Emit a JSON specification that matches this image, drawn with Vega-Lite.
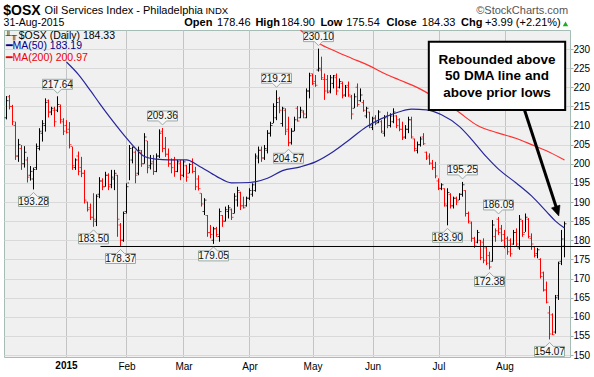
{
  "$schema": "https://vega.github.io/schema/vega-lite/v6.json",
  "width": 566,
  "height": 327,
  "autosize": {"type": "none"},
  "padding": {"left": 4, "top": 30, "right": 24, "bottom": 20},
  "background": "white",
  "config": {
    "view": {"fill": "#f0f0f0", "stroke": "#a5bdb5"},
    "font": "Liberation Sans",
    "axis": {"labelFont": "Liberation Sans", "labelFontSize": 10, "labelColor": "#000000", "domain": false, "title": null, "labelOverlap": false},
    "axisQuantitative": {"labelOverlap": false},
    "axisX": {"gridColor": "#c4c4c4", "ticks": false, "labelPadding": 4, "labelOverlap": false},
    "axisY": {"gridColor": "#d9d9d9", "tickSize": 3, "tickColor": "#9db5ae", "labelPadding": 0, "labelOverlap": false, "tickCount": 17}
  },
  "datasets": {
    "ohlc": [
      {"d":-20,"o":212,"h":217.7,"l":211.6,"c":216.5,"dir":"up"},
      {"d":-19,"o":217.5,"h":218,"l":214.2,"c":215,"dir":"down"},
      {"d":-18,"o":215,"h":215.4,"l":210.1,"c":211,"dir":"down"},
      {"d":-17,"o":210,"h":211,"l":201,"c":202,"dir":"down"},
      {"d":-16,"o":202,"h":206.5,"l":200.5,"c":205,"dir":"up"},
      {"d":-15,"o":204,"h":204.9,"l":198.4,"c":200,"dir":"down"},
      {"d":-14,"o":200,"h":204.6,"l":199,"c":203,"dir":"up"},
      {"d":-13,"o":201,"h":201.8,"l":195.1,"c":196.5,"dir":"down"},
      {"d":-12,"o":197,"h":199.4,"l":195.6,"c":198,"dir":"up"},
      {"d":-11,"o":196,"h":199,"l":193.28,"c":198.5,"dir":"up"},
      {"d":-10,"o":199,"h":205.3,"l":198.4,"c":204.5,"dir":"up"},
      {"d":-9,"o":204,"h":209.3,"l":203.5,"c":208.5,"dir":"up"},
      {"d":-8,"o":208,"h":211.4,"l":205.8,"c":210.5,"dir":"up"},
      {"d":-7,"o":210,"h":217.1,"l":208.4,"c":216,"dir":"up"},
      {"d":-6,"o":216.5,"h":216.8,"l":212.1,"c":213.5,"dir":"down"},
      {"d":-5,"o":213.5,"h":214.9,"l":212.7,"c":214.5,"dir":"up"},
      {"d":-4,"o":214,"h":214.9,"l":209.7,"c":211,"dir":"down"},
      {"d":-3,"o":214,"h":217.64,"l":213.5,"c":215.5,"dir":"up"},
      {"d":-2,"o":215,"h":215.5,"l":210.5,"c":211.5,"dir":"down"},
      {"d":-1,"o":211,"h":211.9,"l":207.5,"c":208.5,"dir":"down"},
      {"d":0,"o":210,"h":211.4,"l":207.9,"c":208.2,"dir":"down"},
      {"d":1,"o":209,"h":210.9,"l":204,"c":205,"dir":"down"},
      {"d":2,"o":204.5,"h":204.5,"l":198.4,"c":199.5,"dir":"down"},
      {"d":3,"o":199,"h":201.4,"l":198.4,"c":201,"dir":"up"},
      {"d":4,"o":202,"h":203.2,"l":197,"c":198,"dir":"down"},
      {"d":5,"o":199,"h":201.8,"l":196.5,"c":197.5,"dir":"down"},
      {"d":6,"o":197.5,"h":198.4,"l":189.6,"c":190.5,"dir":"down"},
      {"d":7,"o":190,"h":190.1,"l":187.5,"c":188,"dir":"down"},
      {"d":8,"o":188.5,"h":189.6,"l":185.3,"c":186,"dir":"down"},
      {"d":9,"o":186,"h":192.3,"l":183.5,"c":185.5,"dir":"down"},
      {"d":10,"o":185,"h":192,"l":183.7,"c":191.5,"dir":"up"},
      {"d":11,"o":192,"h":196.5,"l":191,"c":195.5,"dir":"up"},
      {"d":12,"o":195.5,"h":196.2,"l":193.1,"c":194,"dir":"down"},
      {"d":13,"o":194,"h":197.9,"l":194,"c":197,"dir":"up"},
      {"d":14,"o":197,"h":197.5,"l":193.1,"c":194,"dir":"down"},
      {"d":15,"o":194.5,"h":198.4,"l":193.6,"c":196.5,"dir":"up"},
      {"d":16,"o":196,"h":198.4,"l":193.1,"c":197.5,"dir":"up"},
      {"d":17,"o":197,"h":197.1,"l":180.9,"c":185.5,"dir":"down"},
      {"d":18,"o":184,"h":184.5,"l":178.37,"c":180,"dir":"down"},
      {"d":19,"o":180,"h":187.5,"l":179.6,"c":187,"dir":"up"},
      {"d":20,"o":187.5,"h":194.9,"l":187,"c":194,"dir":"up"},
      {"d":21,"o":195,"h":204.9,"l":195.7,"c":204,"dir":"up"},
      {"d":22,"o":201,"h":204.5,"l":200.1,"c":204.3,"dir":"up"},
      {"d":23,"o":203,"h":203.5,"l":194.9,"c":197,"dir":"down"},
      {"d":24,"o":197.5,"h":204.5,"l":197,"c":203.5,"dir":"up"},
      {"d":25,"o":203,"h":203.6,"l":199.2,"c":200,"dir":"down"},
      {"d":26,"o":200,"h":208,"l":200,"c":207,"dir":"up"},
      {"d":27,"o":206,"h":206,"l":197.5,"c":199,"dir":"down"},
      {"d":28,"o":199.5,"h":202.3,"l":198.5,"c":200,"dir":"up"},
      {"d":29,"o":200.5,"h":202.3,"l":197.1,"c":198,"dir":"down"},
      {"d":30,"o":198,"h":202.7,"l":197.8,"c":202,"dir":"up"},
      {"d":31,"o":202,"h":209,"l":201.5,"c":208,"dir":"up"},
      {"d":32,"o":208.5,"h":209.36,"l":203,"c":204,"dir":"down"},
      {"d":33,"o":204,"h":207,"l":201.8,"c":202.5,"dir":"down"},
      {"d":34,"o":202.5,"h":204,"l":199.2,"c":200,"dir":"down"},
      {"d":35,"o":200,"h":201.4,"l":197.5,"c":199,"dir":"down"},
      {"d":36,"o":201,"h":201.8,"l":196.6,"c":198,"dir":"down"},
      {"d":37,"o":198,"h":201,"l":197.8,"c":200.5,"dir":"up"},
      {"d":38,"o":200,"h":201,"l":195.7,"c":197,"dir":"down"},
      {"d":39,"o":197,"h":201,"l":196.5,"c":200.5,"dir":"up"},
      {"d":40,"o":199.5,"h":199.7,"l":195.3,"c":196.5,"dir":"down"},
      {"d":41,"o":197.5,"h":200.1,"l":197.5,"c":199.8,"dir":"up"},
      {"d":42,"o":200.5,"h":201.4,"l":197.5,"c":198,"dir":"down"},
      {"d":43,"o":198,"h":199.2,"l":193.1,"c":194,"dir":"down"},
      {"d":44,"o":196,"h":197,"l":193,"c":193.5,"dir":"down"},
      {"d":45,"o":192.3,"h":192.3,"l":188.8,"c":189.5,"dir":"down"},
      {"d":46,"o":187.5,"h":191,"l":186.6,"c":190.5,"dir":"up"},
      {"d":47,"o":186.5,"h":186.6,"l":180.9,"c":182,"dir":"down"},
      {"d":48,"o":182,"h":184,"l":180.5,"c":181.5,"dir":"down"},
      {"d":49,"o":180,"h":183.5,"l":179.05,"c":183,"dir":"up"},
      {"d":50,"o":183,"h":183.5,"l":180.9,"c":181.5,"dir":"down"},
      {"d":51,"o":181,"h":188.3,"l":179.6,"c":187.5,"dir":"up"},
      {"d":52,"o":186.5,"h":186.6,"l":183.5,"c":185,"dir":"down"},
      {"d":53,"o":185,"h":188.8,"l":184.9,"c":188,"dir":"up"},
      {"d":54,"o":187.5,"h":189.2,"l":185.7,"c":188.5,"dir":"up"},
      {"d":55,"o":188,"h":188.3,"l":185.3,"c":186,"dir":"down"},
      {"d":56,"o":187,"h":192.3,"l":187,"c":191.5,"dir":"up"},
      {"d":57,"o":190.5,"h":194,"l":188.8,"c":193,"dir":"up"},
      {"d":58,"o":192.5,"h":192.7,"l":187.9,"c":189,"dir":"down"},
      {"d":59,"o":189,"h":191.4,"l":188.3,"c":188.5,"dir":"down"},
      {"d":60,"o":189,"h":191.4,"l":188.8,"c":191,"dir":"up"},
      {"d":61,"o":191,"h":193.6,"l":190.5,"c":193,"dir":"up"},
      {"d":62,"o":192,"h":194.9,"l":191.4,"c":194.5,"dir":"up"},
      {"d":63,"o":193,"h":202.7,"l":192.7,"c":202,"dir":"up"},
      {"d":64,"o":201.5,"h":204.5,"l":200.1,"c":203.5,"dir":"up"},
      {"d":65,"o":203.5,"h":204.5,"l":200.5,"c":201.5,"dir":"down"},
      {"d":66,"o":201.5,"h":204.9,"l":201,"c":204,"dir":"up"},
      {"d":67,"o":203.5,"h":208.8,"l":202.7,"c":208,"dir":"up"},
      {"d":68,"o":208,"h":211,"l":207.1,"c":210,"dir":"up"},
      {"d":69,"o":210.5,"h":215.8,"l":210.6,"c":215,"dir":"up"},
      {"d":70,"o":212,"h":219.21,"l":211.4,"c":216,"dir":"up"},
      {"d":71,"o":217,"h":217.5,"l":213.2,"c":214,"dir":"down"},
      {"d":72,"o":210.5,"h":214.9,"l":209.7,"c":214.5,"dir":"up"},
      {"d":73,"o":214,"h":214.5,"l":207.5,"c":208.5,"dir":"down"},
      {"d":74,"o":209,"h":212.3,"l":204.57,"c":205.5,"dir":"down"},
      {"d":75,"o":205.5,"h":209.3,"l":205,"c":208.5,"dir":"up"},
      {"d":76,"o":208.5,"h":212.3,"l":208.5,"c":211.5,"dir":"up"},
      {"d":77,"o":214.5,"h":215.1,"l":211,"c":211.2,"dir":"down"},
      {"d":78,"o":212,"h":214.9,"l":211.9,"c":214,"dir":"up"},
      {"d":79,"o":213.5,"h":214,"l":211.9,"c":213,"dir":"down"},
      {"d":80,"o":212,"h":219.7,"l":211.9,"c":219,"dir":"up"},
      {"d":81,"o":219,"h":223.8,"l":217.1,"c":223,"dir":"up"},
      {"d":82,"o":223.5,"h":223.6,"l":220.6,"c":221,"dir":"down"},
      {"d":83,"o":221.5,"h":223.2,"l":220.1,"c":220.5,"dir":"down"},
      {"d":84,"o":224.5,"h":230.1,"l":224.1,"c":225,"dir":"up"},
      {"d":85,"o":224.5,"h":228,"l":221.9,"c":222.5,"dir":"down"},
      {"d":86,"o":222,"h":223.6,"l":216.7,"c":219,"dir":"down"},
      {"d":87,"o":222,"h":223.2,"l":218.4,"c":218.6,"dir":"down"},
      {"d":88,"o":219,"h":223.2,"l":218.4,"c":222.5,"dir":"up"},
      {"d":89,"o":221,"h":223.2,"l":219.7,"c":223,"dir":"up"},
      {"d":90,"o":222.5,"h":223.6,"l":218,"c":219,"dir":"down"},
      {"d":91,"o":220,"h":222.3,"l":219.7,"c":221.5,"dir":"up"},
      {"d":92,"o":221,"h":221.5,"l":217.1,"c":217.8,"dir":"down"},
      {"d":93,"o":218,"h":220.6,"l":217.5,"c":220,"dir":"up"},
      {"d":94,"o":220.5,"h":221.5,"l":217.5,"c":218,"dir":"down"},
      {"d":95,"o":217.5,"h":218,"l":211.6,"c":213,"dir":"down"},
      {"d":96,"o":214.5,"h":218.4,"l":214.5,"c":217.5,"dir":"up"},
      {"d":97,"o":220,"h":221,"l":214.9,"c":215.5,"dir":"down"},
      {"d":98,"o":216.5,"h":219.7,"l":216.2,"c":218,"dir":"up"},
      {"d":99,"o":216,"h":216.7,"l":213.6,"c":214,"dir":"down"},
      {"d":100,"o":212.5,"h":214.9,"l":211.9,"c":214.5,"dir":"up"},
      {"d":101,"o":213.5,"h":213.6,"l":209.3,"c":210,"dir":"down"},
      {"d":102,"o":209.5,"h":212.3,"l":208.8,"c":211.8,"dir":"up"},
      {"d":103,"o":212,"h":212.7,"l":210.1,"c":210.5,"dir":"down"},
      {"d":104,"o":210.8,"h":214,"l":210.6,"c":213.5,"dir":"up"},
      {"d":105,"o":211,"h":211.4,"l":208,"c":208.5,"dir":"down"},
      {"d":106,"o":208,"h":212.7,"l":207.1,"c":212,"dir":"up"},
      {"d":107,"o":212.5,"h":213.6,"l":209.3,"c":210,"dir":"down"},
      {"d":108,"o":210,"h":213.2,"l":209.5,"c":212.5,"dir":"up"},
      {"d":109,"o":211,"h":214.5,"l":210.6,"c":213.5,"dir":"up"},
      {"d":110,"o":212.5,"h":212.7,"l":209.3,"c":210,"dir":"down"},
      {"d":111,"o":211.5,"h":211.9,"l":208.5,"c":209,"dir":"down"},
      {"d":112,"o":209,"h":211,"l":206.2,"c":206.8,"dir":"down"},
      {"d":113,"o":207,"h":210.1,"l":206.5,"c":209,"dir":"up"},
      {"d":114,"o":209,"h":212.3,"l":208,"c":211.5,"dir":"up"},
      {"d":115,"o":211.5,"h":212.3,"l":206.6,"c":207,"dir":"down"},
      {"d":116,"o":206.5,"h":206.6,"l":203.2,"c":204,"dir":"down"},
      {"d":117,"o":203.5,"h":205.8,"l":202.7,"c":205,"dir":"up"},
      {"d":118,"o":205,"h":207.1,"l":204.5,"c":206.5,"dir":"up"},
      {"d":119,"o":207,"h":208,"l":204.9,"c":205.2,"dir":"down"},
      {"d":120,"o":203,"h":203.2,"l":201,"c":201.5,"dir":"down"},
      {"d":121,"o":202,"h":202.7,"l":199.7,"c":200.2,"dir":"down"},
      {"d":122,"o":200,"h":201,"l":198.4,"c":199,"dir":"down"},
      {"d":123,"o":199,"h":200.5,"l":196.2,"c":196.8,"dir":"down"},
      {"d":124,"o":195.5,"h":196.2,"l":193.1,"c":193.6,"dir":"down"},
      {"d":125,"o":193.5,"h":194.9,"l":193.1,"c":194.5,"dir":"up"},
      {"d":126,"o":193.5,"h":193.6,"l":188.8,"c":189.5,"dir":"down"},
      {"d":127,"o":189,"h":193.6,"l":183.9,"c":192.5,"dir":"up"},
      {"d":128,"o":192,"h":192.3,"l":188.3,"c":189,"dir":"down"},
      {"d":129,"o":189,"h":191.4,"l":188.3,"c":191,"dir":"up"},
      {"d":130,"o":191,"h":191.4,"l":189.2,"c":190,"dir":"down"},
      {"d":131,"o":190.5,"h":192.3,"l":190.5,"c":192,"dir":"up"},
      {"d":132,"o":192,"h":195.25,"l":191.4,"c":194.5,"dir":"up"},
      {"d":133,"o":193,"h":193.1,"l":186.2,"c":187,"dir":"down"},
      {"d":134,"o":187,"h":187.5,"l":184.4,"c":185,"dir":"down"},
      {"d":135,"o":184.5,"h":184.9,"l":179.6,"c":180.5,"dir":"down"},
      {"d":136,"o":180.5,"h":180.9,"l":178,"c":178.5,"dir":"down"},
      {"d":137,"o":179.5,"h":182.7,"l":179.2,"c":182,"dir":"up"},
      {"d":138,"o":180,"h":180.1,"l":174.8,"c":175.5,"dir":"down"},
      {"d":139,"o":179.5,"h":180.5,"l":174,"c":174.8,"dir":"down"},
      {"d":140,"o":178,"h":178.3,"l":173.5,"c":174,"dir":"down"},
      {"d":141,"o":176,"h":177,"l":172.38,"c":173,"dir":"down"},
      {"d":142,"o":174.5,"h":185.3,"l":174.4,"c":184,"dir":"up"},
      {"d":143,"o":181,"h":183.1,"l":179.6,"c":182.5,"dir":"down"},
      {"d":144,"o":185.5,"h":186.09,"l":181.4,"c":182,"dir":"down"},
      {"d":145,"o":183,"h":184,"l":179.6,"c":180,"dir":"down"},
      {"d":146,"o":181.5,"h":182.7,"l":177.9,"c":178.5,"dir":"down"},
      {"d":147,"o":180.5,"h":181,"l":176.2,"c":177,"dir":"down"},
      {"d":148,"o":180,"h":180.5,"l":175.7,"c":176.5,"dir":"down"},
      {"d":149,"o":179,"h":182.7,"l":178.8,"c":182,"dir":"up"},
      {"d":150,"o":182,"h":183.1,"l":178.3,"c":179,"dir":"down"},
      {"d":151,"o":178,"h":186.6,"l":177.5,"c":185.5,"dir":"up"},
      {"d":152,"o":185,"h":185.3,"l":180.9,"c":181.5,"dir":"down"},
      {"d":153,"o":182,"h":187,"l":182.2,"c":186,"dir":"up"},
      {"d":154,"o":185.5,"h":185.8,"l":180.5,"c":181,"dir":"down"},
      {"d":155,"o":180.5,"h":181.8,"l":177.5,"c":179,"dir":"down"},
      {"d":156,"o":178.3,"h":178.5,"l":175.5,"c":176,"dir":"down"},
      {"d":157,"o":176.5,"h":178,"l":175.3,"c":177.5,"dir":"up"},
      {"d":158,"o":175,"h":175.3,"l":170,"c":170.5,"dir":"down"},
      {"d":159,"o":171.5,"h":171.8,"l":166.6,"c":167,"dir":"down"},
      {"d":160,"o":167,"h":169.2,"l":163.5,"c":163.8,"dir":"down"},
      {"d":161,"o":161,"h":162.8,"l":154.07,"c":155.5,"dir":"down"},
      {"d":162,"o":160.5,"h":160.9,"l":155.2,"c":155.3,"dir":"down"},
      {"d":163,"o":156,"h":165.7,"l":155.6,"c":165,"dir":"up"},
      {"d":164,"o":165.5,"h":174.4,"l":164.4,"c":174,"dir":"up"},
      {"d":165,"o":174.5,"h":182.7,"l":173.5,"c":180.34,"dir":"up"},
      {"d":166,"o":178.46,"h":184.9,"l":175.54,"c":184.33,"dir":"up"}
    ],
    "ma50": [
      {"d":0,"v":226.6},{"d":4,"v":223.3},{"d":8,"v":219.1},{"d":11,"v":215.8},
      {"d":15,"v":211.6},{"d":20,"v":206.7},{"d":23,"v":204.0},{"d":26,"v":201.9},
      {"d":30,"v":201.2},{"d":34,"v":201.0},{"d":40,"v":201.0},{"d":44,"v":199.5},
      {"d":50,"v":196.7},{"d":55,"v":195.0},{"d":61,"v":195.1},{"d":67,"v":196.2},
      {"d":72,"v":198.2},{"d":78,"v":199.2},{"d":83,"v":200.5},{"d":89,"v":203.2},
      {"d":94,"v":206.1},{"d":100,"v":209.7},{"d":105,"v":211.8},{"d":111,"v":213.6},
      {"d":115,"v":214.3},{"d":120,"v":214.1},{"d":125,"v":212.8},{"d":131,"v":209.7},
      {"d":135,"v":206.4},{"d":140,"v":201.8},{"d":144,"v":198.6},{"d":150,"v":194.9},
      {"d":155,"v":191.6},{"d":160,"v":187.5},{"d":163,"v":185.0},{"d":166,"v":183.19}
    ],
    "ma200": [
      {"d":78,"v":234.9},{"d":84,"v":231.5},{"d":90,"v":229.3},{"d":95,"v":227.6},
      {"d":101,"v":225.6},{"d":106,"v":223.6},{"d":111,"v":221.9},{"d":117,"v":219.9},
      {"d":124,"v":216.8},{"d":130,"v":213.9},{"d":137,"v":210.0},{"d":144,"v":208.0},
      {"d":150,"v":206.6},{"d":155,"v":205.0},{"d":161,"v":203.0},{"d":166,"v":200.97}
    ],
    "peaks": [
      {"d":-3,"v":217.64,"t":"217.64"},
      {"d":32,"v":209.36,"t":"209.36"},
      {"d":70,"v":219.21,"t":"219.21"},
      {"d":84,"v":230.10,"t":"230.10"},
      {"d":132,"v":195.25,"t":"195.25"},
      {"d":144,"v":186.09,"t":"186.09"}
    ],
    "troughs": [
      {"d":-11,"v":193.28,"t":"193.28"},
      {"d":9,"v":183.50,"t":"183.50"},
      {"d":18,"v":178.37,"t":"178.37"},
      {"d":49,"v":179.05,"t":"179.05"},
      {"d":74,"v":204.57,"t":"204.57"},
      {"d":127,"v":183.90,"t":"183.90"},
      {"d":141,"v":172.38,"t":"172.38"},
      {"d":161,"v":154.07,"t":"154.07"}
    ],
    "one": [{"k": 1}]
  },
  "layer": [
    {
      "data": {"name": "ohlc"},
      "mark": {"type": "rule", "strokeWidth": 1},
      "encoding": {
        "x": {"field": "d", "type": "quantitative",
          "scale": {"domain": [-20.8333, 167.8333], "nice": false, "zero": false},
          "axis": {"orient": "bottom", "values": [0, 20, 39, 61, 82, 102, 124, 146], "grid": true, "labelOverlap": false,
            "labelExpr": "datum.value == 0 ? '' : datum.value == 20 ? 'Feb' : datum.value == 39 ? 'Mar' : datum.value == 61 ? 'Apr' : datum.value == 82 ? 'May' : datum.value == 102 ? 'Jun' : datum.value == 124 ? 'Jul' : 'Aug'"}},
        "y": {"field": "l", "type": "quantitative",
          "scale": {"domain": [149.48, 234.97], "nice": false, "zero": false},
          "axis": {"orient": "right", "grid": true, "labelOverlap": false, "labelSeparation": 0, "labelBound": false, "tickCount": 17,
            "values": [150,155,160,165,170,175,180,185,190,195,200,205,210,215,220,225,230]}},
        "y2": {"field": "h"},
        "color": {"field": "dir", "type": "nominal",
          "scale": {"domain": ["up", "down"], "range": ["#000000", "#ff0000"]}, "legend": null}
      }
    },
    {
      "data": {"name": "ohlc"},
      "mark": {"type": "tick", "orient": "horizontal", "size": 1.5, "thickness": 1, "xOffset": -1.25},
      "encoding": {
        "x": {"field": "d", "type": "quantitative"},
        "y": {"field": "o", "type": "quantitative"},
        "color": {"field": "dir", "type": "nominal", "legend": null}
      }
    },
    {
      "data": {"name": "ohlc"},
      "mark": {"type": "tick", "orient": "horizontal", "size": 1.5, "thickness": 1, "xOffset": 1.25},
      "encoding": {
        "x": {"field": "d", "type": "quantitative"},
        "y": {"field": "c", "type": "quantitative"},
        "color": {"field": "dir", "type": "nominal", "legend": null}
      }
    },
    {
      "data": {"name": "ma50"},
      "mark": {"type": "line", "color": "#26269c", "strokeWidth": 1.2, "interpolate": "monotone"},
      "encoding": {
        "x": {"field": "d", "type": "quantitative"},
        "y": {"field": "v", "type": "quantitative"}
      }
    },
    {
      "data": {"name": "ma200"},
      "mark": {"type": "line", "color": "#ff3030", "strokeWidth": 1.2, "interpolate": "monotone"},
      "encoding": {
        "x": {"field": "d", "type": "quantitative"},
        "y": {"field": "v", "type": "quantitative"}
      }
    },
    {
      "data": {"name": "one"},
      "mark": {"type": "rule", "color": "#000000", "strokeWidth": 1},
      "encoding": {
        "x": {"datum": 11.33, "type": "quantitative"},
        "x2": {"datum": 174.67},
        "y": {"datum": 178.37, "type": "quantitative"}
      }
    },
    {
      "data": {"name": "peaks"},
      "mark": {"type": "point", "shape": "M-0.9375,-1.0625H0.9375V-0.4375H0.25L0,-0.1875L-0.25,-0.4375H-0.9375Z",
        "size": 1024, "filled": true, "fill": "#f6f6f6", "stroke": "#9aaba6", "strokeWidth": 1, "opacity": 1},
      "encoding": {
        "x": {"field": "d", "type": "quantitative"},
        "y": {"field": "v", "type": "quantitative"}
      }
    },
    {
      "data": {"name": "peaks"},
      "mark": {"type": "text", "fontSize": 10, "color": "#111111", "baseline": "middle", "align": "center", "yOffset": -11.5},
      "encoding": {
        "x": {"field": "d", "type": "quantitative"},
        "y": {"field": "v", "type": "quantitative"},
        "text": {"field": "t"}
      }
    },
    {
      "data": {"name": "troughs"},
      "mark": {"type": "point", "shape": "M-0.9375,1.0625H0.9375V0.4375H0.25L0,0.1875L-0.25,0.4375H-0.9375Z",
        "size": 1024, "filled": true, "fill": "#f6f6f6", "stroke": "#9aaba6", "strokeWidth": 1, "opacity": 1},
      "encoding": {
        "x": {"field": "d", "type": "quantitative"},
        "y": {"field": "v", "type": "quantitative"}
      }
    },
    {
      "data": {"name": "troughs"},
      "mark": {"type": "text", "fontSize": 10, "color": "#111111", "baseline": "middle", "align": "center", "yOffset": 12.5},
      "encoding": {
        "x": {"field": "d", "type": "quantitative"},
        "y": {"field": "v", "type": "quantitative"},
        "text": {"field": "t"}
      }
    },
    {
      "data": {"name": "one"},
      "mark": {"type": "rect", "fill": "#ffffff", "stroke": "#000000", "strokeWidth": 2},
      "encoding": {
        "x": {"datum": 120.77, "type": "quantitative"},
        "x2": {"datum": 166.23},
        "y": {"datum": 231.91, "type": "quantitative"},
        "y2": {"datum": 214.05}
      }
    },
    {
      "data": {"name": "one"},
      "mark": {"type": "text", "text": ["Rebounded above", "50 DMA line and", "above prior lows"],
        "fontSize": 13.5, "fontWeight": "bold", "lineHeight": 16.4, "align": "center", "baseline": "middle", "color": "#000000"},
      "encoding": {
        "x": {"datum": 143.5, "type": "quantitative"},
        "y": {"datum": 227.12, "type": "quantitative"}
      }
    },
    {
      "data": {"name": "one"},
      "mark": {"type": "rule", "color": "#000000", "strokeWidth": 3},
      "encoding": {
        "x": {"datum": 152.67, "type": "quantitative"},
        "x2": {"datum": 163.33},
        "y": {"datum": 214.05, "type": "quantitative"},
        "y2": {"datum": 188.43}
      }
    },
    {
      "data": {"name": "one"},
      "mark": {"type": "point", "shape": "M0,0L-0.45,-1L0.45,-1Z", "size": 400, "filled": true,
        "fill": "#000000", "stroke": "#000000", "strokeWidth": 0.5, "opacity": 1, "angle": -18},
      "encoding": {
        "x": {"datum": 164.1, "type": "quantitative"},
        "y": {"datum": 186.34, "type": "quantitative"}
      }
    },
    {
      "data": {"name": "one"},
      "mark": {"type": "text", "text": "2015", "fontSize": 10, "fontWeight": "bold", "align": "center", "baseline": "top", "color": "#000000"},
      "encoding": {"x": {"datum": 0, "type": "quantitative"}, "y": {"datum": 148.44, "type": "quantitative"}}
    },
    {
      "data": {"name": "one"},
      "mark": {"type": "text", "text": "$OSX", "fontSize": 14, "fontWeight": "bold", "align": "left", "baseline": "alphabetic", "color": "#000000"},
      "encoding": {"x": {"datum": -21.07, "type": "quantitative"}, "y": {"datum": 238.89, "type": "quantitative"}}
    },
    {
      "data": {"name": "one"},
      "mark": {"type": "text", "text": "Oil Services Index - Philadelphia", "fontSize": 11, "align": "left", "baseline": "alphabetic", "color": "#000000"},
      "encoding": {"x": {"datum": -7.3, "type": "quantitative"}, "y": {"datum": 239.15, "type": "quantitative"}}
    },
    {
      "data": {"name": "one"},
      "mark": {"type": "text", "text": "INDX", "fontSize": 9.5, "align": "left", "baseline": "alphabetic", "color": "#000000"},
      "encoding": {"x": {"datum": 46.3, "type": "quantitative"}, "y": {"datum": 239.15, "type": "quantitative"}}
    },
    {
      "data": {"name": "one"},
      "mark": {"type": "text", "text": "©StockCharts.com", "fontSize": 11, "align": "right", "baseline": "alphabetic", "color": "#555555"},
      "encoding": {"x": {"datum": 167.2, "type": "quantitative"}, "y": {"datum": 239.15, "type": "quantitative"}}
    },
    {
      "data": {"name": "one"},
      "mark": {"type": "text", "text": "31-Aug-2015", "fontSize": 10.5, "align": "left", "baseline": "alphabetic", "color": "#000000"},
      "encoding": {"x": {"datum": -20.97, "type": "quantitative"}, "y": {"datum": 235.9, "type": "quantitative"}}
    },
    {
      "data": {"name": "one"},
      "mark": {"type": "text", "text": "Open", "fontSize": 11, "fontWeight": "bold", "align": "left", "baseline": "alphabetic", "color": "#000000"},
      "encoding": {"x": {"datum": 39.27, "type": "quantitative"}, "y": {"datum": 235.9, "type": "quantitative"}}
    },
    {
      "data": {"name": "one"},
      "mark": {"type": "text", "text": "178.46", "fontSize": 11, "align": "left", "baseline": "alphabetic", "color": "#000000"},
      "encoding": {"x": {"datum": 50.13, "type": "quantitative"}, "y": {"datum": 235.9, "type": "quantitative"}}
    },
    {
      "data": {"name": "one"},
      "mark": {"type": "text", "text": "High", "fontSize": 11, "fontWeight": "bold", "align": "left", "baseline": "alphabetic", "color": "#000000"},
      "encoding": {"x": {"datum": 62.97, "type": "quantitative"}, "y": {"datum": 235.9, "type": "quantitative"}}
    },
    {
      "data": {"name": "one"},
      "mark": {"type": "text", "text": "184.90", "fontSize": 11, "align": "left", "baseline": "alphabetic", "color": "#000000"},
      "encoding": {"x": {"datum": 71.6, "type": "quantitative"}, "y": {"datum": 235.9, "type": "quantitative"}}
    },
    {
      "data": {"name": "one"},
      "mark": {"type": "text", "text": "Low", "fontSize": 11, "fontWeight": "bold", "align": "left", "baseline": "alphabetic", "color": "#000000"},
      "encoding": {"x": {"datum": 84.63, "type": "quantitative"}, "y": {"datum": 235.9, "type": "quantitative"}}
    },
    {
      "data": {"name": "one"},
      "mark": {"type": "text", "text": "175.54", "fontSize": 11, "align": "left", "baseline": "alphabetic", "color": "#000000"},
      "encoding": {"x": {"datum": 93.23, "type": "quantitative"}, "y": {"datum": 235.9, "type": "quantitative"}}
    },
    {
      "data": {"name": "one"},
      "mark": {"type": "text", "text": "Close", "fontSize": 11, "fontWeight": "bold", "align": "left", "baseline": "alphabetic", "color": "#000000"},
      "encoding": {"x": {"datum": 106.7, "type": "quantitative"}, "y": {"datum": 235.9, "type": "quantitative"}}
    },
    {
      "data": {"name": "one"},
      "mark": {"type": "text", "text": "184.33", "fontSize": 11, "align": "left", "baseline": "alphabetic", "color": "#000000"},
      "encoding": {"x": {"datum": 118.43, "type": "quantitative"}, "y": {"datum": 235.9, "type": "quantitative"}}
    },
    {
      "data": {"name": "one"},
      "mark": {"type": "text", "text": "Chg", "fontSize": 11, "fontWeight": "bold", "align": "left", "baseline": "alphabetic", "color": "#000000"},
      "encoding": {"x": {"datum": 131.53, "type": "quantitative"}, "y": {"datum": 235.9, "type": "quantitative"}}
    },
    {
      "data": {"name": "one"},
      "mark": {"type": "text", "text": "+3.99 (+2.21%)", "fontSize": 11, "align": "left", "baseline": "alphabetic", "color": "#000000"},
      "encoding": {"x": {"datum": 139.47, "type": "quantitative"}, "y": {"datum": 235.9, "type": "quantitative"}}
    },
    {
      "data": {"name": "one"},
      "mark": {"type": "point", "shape": "triangle-up", "size": 30, "filled": true, "fill": "#22aa22", "opacity": 1, "strokeWidth": 0},
      "encoding": {"x": {"datum": 166.33, "type": "quantitative"}, "y": {"datum": 236.6, "type": "quantitative"}}
    },
    {
      "data": {"name": "one"},
      "mark": {"type": "text", "text": "$OSX (Daily) 184.33", "fontSize": 10.5, "align": "left", "baseline": "middle", "color": "#000000"},
      "encoding": {"x": {"datum": -15.93, "type": "quantitative"}, "y": {"datum": 233.53, "type": "quantitative"}}
    },
    {
      "data": {"name": "one"},
      "mark": {"type": "text", "text": "╨╥", "fontSize": 8, "align": "left", "baseline": "middle", "color": "#000000"},
      "encoding": {"x": {"datum": -20.33, "type": "quantitative"}, "y": {"datum": 233.53, "type": "quantitative"}}
    },
    {
      "data": {"name": "one"},
      "mark": {"type": "text", "text": "━MA(50) 183.19", "fontSize": 10.5, "align": "left", "baseline": "middle", "color": "#00008b"},
      "encoding": {"x": {"datum": -20.33, "type": "quantitative"}, "y": {"datum": 230.78, "type": "quantitative"}}
    },
    {
      "data": {"name": "one"},
      "mark": {"type": "text", "text": "━MA(200) 200.97", "fontSize": 10.5, "align": "left", "baseline": "middle", "color": "#ee0000"},
      "encoding": {"x": {"datum": -20.33, "type": "quantitative"}, "y": {"datum": 227.78, "type": "quantitative"}}
    }
  ]
}
